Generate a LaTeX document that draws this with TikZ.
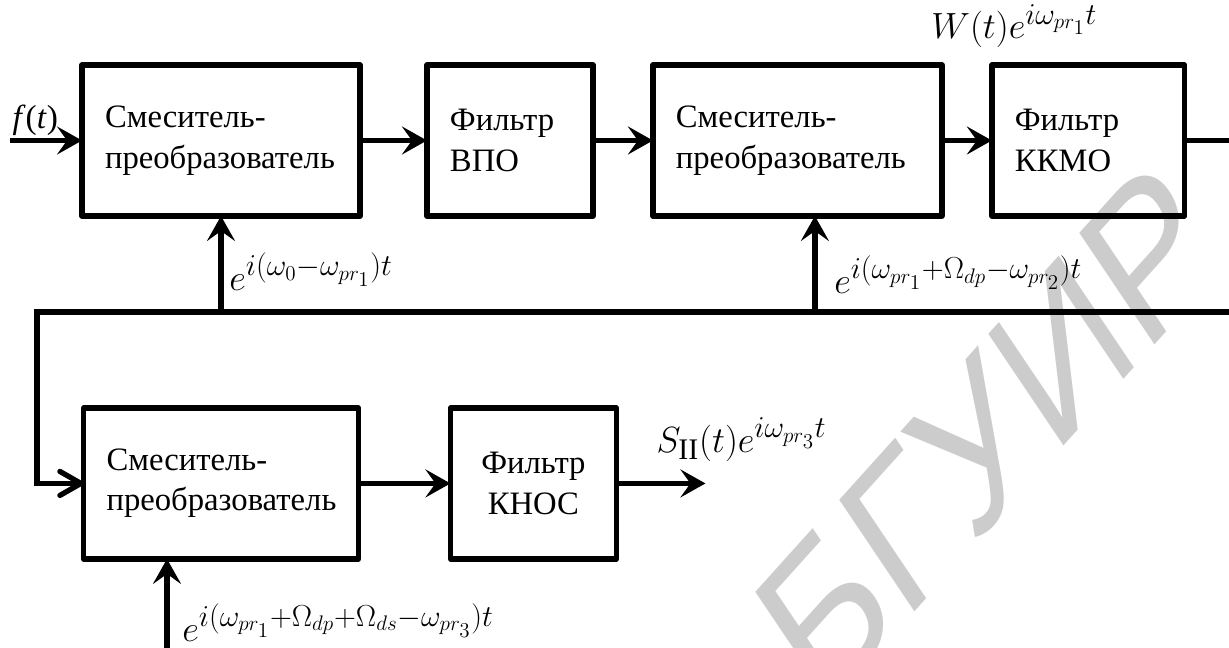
\documentclass[tikz,border=0pt]{standalone}
\usepackage{fontspec}
\setmainfont{Liberation Serif}
\setsansfont{Liberation Sans}
\usetikzlibrary{arrows.meta, positioning}
\DeclareMathSizes{21}{21}{17}{13}

\begin{document}
\begin{tikzpicture}[x=0.02cm, y=-0.02cm,
  block/.style={draw, line width=3pt, line join=round, outer sep=0pt,
    minimum height=3.02cm, inner xsep=0.46cm, align=left,
    font=\fontsize{18.6}{23}\selectfont},
  sig/.style={font=\fontsize{21}{24}\selectfont, inner sep=1pt},
  link/.style={line width=3pt, -{Stealth[length=5mm, width=5.6mm, inset=2mm]}},
  feedlink/.style={line width=3pt, -{Straight Barb[length=4.2mm, width=4.8mm, line cap=round, line join=round]}}]
  \useasboundingbox (0,0) rectangle (1229,648);

  % watermark behind everything
  \node[rotate=48, xslant=0.25, text=black!20, font=\sffamily\fontsize{108}{108}\selectfont] (mark) at (988,434) {БГУИР};

  % Nodes
  \node[block, text width=4.64cm] (mix1) at (221,140.5) {Смеситель-\\преобразователь};
  \node[block, text width=2.4cm, right=1.34cm of mix1] (vpo) {Фильтр\\ВПО};
  \node[block, text width=4.86cm, right=1.2cm of vpo] (mix2) {Смеситель-\\преобразователь};
  \node[block, text width=2.94cm, right=1cm of mix2] (kkmo) {Фильтр\\ККМО};
  \node[block, text width=4.58cm, below=3.84cm of mix1] (mix3) {Смеситель-\\преобразователь};
  \node[block, text width=2.4cm, align=center, right=1.84cm of mix3] (knos) {Фильтр\\КНОС};

  % free ends
  \coordinate[left=1.44cm of mix1] (fin);
  \coordinate[right=1cm of kkmo] (kkmoout);
  \coordinate (busR) at (1235,312);
  \coordinate (busL) at (37,312);
  \coordinate (lo) at (167,655);
  \coordinate[right=1.78cm of knos] (knosout);

  % Connections
  \draw[link] (fin) -- node[above, pos=0.35, inner sep=1pt, font=\fontsize{19}{22}\selectfont] (flab) {\textit{f}(\textit{t})} (mix1);
  \draw[link] (mix1) -- (vpo);
  \draw[link] (vpo) -- (mix2);
  \draw[link] (mix2) -- (kkmo);
  \draw[line width=3pt] (kkmo) -- (kkmoout);
  \draw[feedlink] (busR) -- (busL) |- (mix3);
  \draw[link] (mix1 |- busL) -- node[sig, right, pos=0.42, xshift=0.08cm] (e1) {$e^{i(\omega_0-\omega_{pr_1})t}$} (mix1);
  \draw[link] ([xshift=0.35cm]mix2.south |- busL) -- node[sig, right, pos=0.39, xshift=0.3cm] (e2) {$e^{i(\omega_{pr_1}+\Omega_{dp}-\omega_{pr_2})t}$} ([xshift=0.35cm]mix2.south);
  \draw[link] (lo) -- node[sig, right, pos=0.34, xshift=0.22cm] (e3) {$e^{i(\omega_{pr_1}+\Omega_{dp}+\Omega_{ds}-\omega_{pr_3})t}$} (lo |- mix3.south);
  \draw[link] (mix3) -- (knos);
  \draw[link] (knos) -- (knosout);

  % signal labels
  \node[sig, above=0.3cm of kkmo, xshift=-1.48cm] (wlab) {$W(t)e^{i\omega_{pr_1}t}$};
  \node[sig, anchor=south west] (slab) at ([xshift=0.76cm, yshift=0.4cm]knos.east) {$S_{\mathrm{II}}(t)e^{i\omega_{pr_3}t}$};
\end{tikzpicture}
\end{document}
